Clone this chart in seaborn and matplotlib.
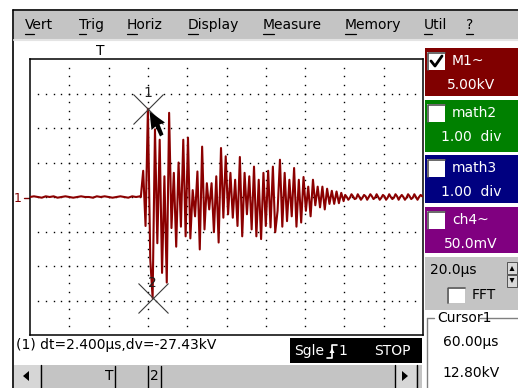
import numpy as np
import pandas as pd
import matplotlib
matplotlib.use("Agg")
import matplotlib.pyplot as plt
import seaborn as sns
from matplotlib.patches import Rectangle, Polygon

# ---------------- data ----------------
# time in microseconds, voltage in kV (20 us/div, 5 kV/div)
pre_t0, pre_dt = 0.0, 2.0
pre_v = [0.0, 0.1, 0.0, -0.1, 0.1, 0.0, 0.1, -0.1, 0.0, 0.1, 0.0, -0.1, 0.0, 0.1, 0.0,
         0.0, -0.1, 0.1, 0.0, 0.1, 0.0, -0.1, 0.0, 0.1, 0.0, -0.1, 0.1, 0.0, 0.1]
burst_t0, burst_dt = 56.4, 1.2
burst_v = [0.0, 3.8, -4.2, 12.8, -9.0, -14.63, 9.8, -6.7, 8.3, -11.0,
           3.0, -12.4, 12.2, -4.5, 3.5, -7.2, 5.0, -4.3, 8.3, -5.7,
           8.6, -6.0, 1.0, -2.8, 3.7, -7.6, 7.3, -4.7, 2.0, -1.8,
           2.0, -5.1, 3.0, -6.6, 7.1, -3.0, 5.9, -2.5, 3.5, -3.0,
           2.5, -4.2, 5.8, -5.7, 3.5, -2.5, 3.0, -4.7, 4.4, -5.7,
           2.5, -6.1, 3.5, -4.2, 3.8, -4.4, 4.4, -5.1, -2.0, 5.4,
           -4.3, 3.5, -3.5, 2.5, -2.8, 4.2, -4.3, 2.5, -3.7, 2.9,
           -2.0, 1.5, -2.8, 2.5, -1.2, 1.5, -1.5, 1.5, -1.8, 1.2,
           -1.0, 0.9, -1.0, 0.8, -0.9, 0.6, -0.6]
tail_t0, tail_dt = 160.4, 0.8
tail_v = [0.3, 0.0, -0.4, -0.1, 0.4, 0.1, -0.3, -0.2, 0.4, 0.0,
          -0.4, -0.1, 0.3, 0.1, -0.4, 0.0, 0.4, 0.1, -0.3, -0.1,
          0.4, 0.0, -0.4, -0.1, 0.3, 0.1, -0.4, -0.1, 0.4, 0.0,
          -0.3, -0.1, 0.4, 0.1, -0.4, 0.0, 0.3, 0.0, -0.4, -0.1,
          0.4, 0.1, -0.3, -0.1, 0.4, 0.0, -0.4, 0.0, 0.3, 0.1]

cursor_t = [60.0, 62.4]
cursor_v = [12.8, -14.63]
cursor_labels = ["1", "2"]

menu_items = ["Vert", "Trig", "Horiz", "Display", "Measure", "Memory", "Util", "?"]
channels = ["M1~", "math2", "math3", "ch4~"]
channel_scales = ["5.00kV", "1.00  div", "1.00  div", "50.0mV"]
channel_colors = ["#800000", "#008000", "#000080", "#800080"]
channel_checked = [True, False, False, False]
timebase = "20.0µs"
cursor_readout = ["60.00µs", "12.80kV"]
status_text = "(1) dt=2.400µs,dv=-27.43kV"

# ---------------- build dataframe ----------------
def seg(t0, dt, vals):
    return pd.DataFrame({"t": t0 + dt * np.arange(len(vals)), "v": vals})

df = pd.concat([seg(pre_t0, pre_dt, pre_v), seg(burst_t0, burst_dt, burst_v),
                seg(tail_t0, tail_dt, tail_v)], ignore_index=True)

sns.set_theme(style="white")
plt.rcParams["font.family"] = ["DejaVu Sans"]

W, H = 518, 388
fig = plt.figure(figsize=(W / 100, H / 100), dpi=100)
fig.patch.set_facecolor("white")

ui = fig.add_axes([0, 0, 1, 1], zorder=0)
ui.set_xlim(0, W); ui.set_ylim(H, 0); ui.axis("off")

GRAY = "#c4c4c4"
FS = 10

# window border
ui.plot([13, 13], [10, H], color="black", lw=1.2)
ui.plot([13, W], [10, 10], color="black", lw=1.2)
# menu bar
ui.add_patch(Rectangle((14, 11), W - 14, 28, fc=GRAY, ec="none"))
ui.plot([14, W], [39.5, 39.5], color="#e4e4e4", lw=1.5)
menu_x = [25, 79, 127, 188, 263, 345, 424, 466]
for name, x in zip(menu_items, menu_x):
    ui.text(x, 25, name, fontsize=FS, ha="left", va="center", color="black")
ul = [(25, 34), (79, 86), (127, 137), (188, 198), (263, 274), (345, 356), (424, 432), (466, 473)]
for a, b in ul:
    ui.plot([a, b], [33.5, 33.5], color="black", lw=0.9)

# trigger marker above plot and channel marker
ui.text(100, 51, "T", fontsize=FS, ha="center", va="center", color="black")
ui.text(18, 198, "1", fontsize=9, ha="center", va="center", color="#800000")
ui.plot([24, 30], [197.5, 197.5], color="#800000", lw=1)

# right channel panel
boxes = [(48, 96), (100, 152), (155, 203), (207, 253)]
for (y0, y1), name, scale, col, chk in zip(boxes, channels, channel_scales,
                                           channel_colors, channel_checked):
    ui.add_patch(Rectangle((425, y0), W - 425, y1 - y0, fc=col, ec="none"))
    cy = y0 + 4
    ui.add_patch(Rectangle((427, cy), 18, 18, fc="white", ec="none"))
    ui.plot([427.5, 427.5, 445], [cy + 18, cy + 0.5, cy + 0.5], color="#505050", lw=1.2)
    if chk:
        ui.plot([431, 435, 442], [cy + 9, cy + 14, cy + 4], color="black", lw=2)
    ui.text(452, y0 + 13, name, fontsize=FS, ha="left", va="center", color="white")
    ui.text(471, y0 + 37, scale, fontsize=FS, ha="center", va="center", color="white")

# timebase box
ui.add_patch(Rectangle((425, 257), W - 425, 53, fc=GRAY, ec="none"))
ui.text(430, 270, timebase, fontsize=FS, ha="left", va="center", color="black")
ui.add_patch(Rectangle((507, 262), 10, 12, fc="#d8d8d8", ec="#404040", lw=0.6))
ui.add_patch(Rectangle((507, 275), 10, 12, fc="#d8d8d8", ec="#404040", lw=0.6))
ui.add_patch(Polygon([(509.5, 271), (514.5, 271), (512, 266)], fc="black", ec="none"))
ui.add_patch(Polygon([(509.5, 278), (514.5, 278), (512, 283)], fc="black", ec="none"))
ui.add_patch(Rectangle((447, 287), 18, 16, fc="white", ec="none"))
ui.plot([447.5, 447.5, 465], [303, 287.5, 287.5], color="#505050", lw=1.2)
ui.text(472, 295, "FFT", fontsize=FS, ha="left", va="center", color="black")

# cursor group
ui.plot([427, 427], [318, H], color="#808080", lw=1)
ui.plot([427, 434], [318, 318], color="#808080", lw=1)
ui.plot([480, W], [318, 318], color="#808080", lw=1)
ui.text(437, 318, "Cursor1", fontsize=FS, ha="left", va="center", color="black")
ui.text(471, 342, cursor_readout[0], fontsize=FS, ha="center", va="center", color="black")
ui.text(471, 373, cursor_readout[1], fontsize=FS, ha="center", va="center", color="black")

# status line
ui.text(16, 345, status_text, fontsize=FS, ha="left", va="center", color="black")
ui.add_patch(Rectangle((290, 338), 132, 25, fc="black", ec="none"))
ui.text(294, 351, "Sgle", fontsize=FS, ha="left", va="center", color="white")
ui.plot([327, 332, 332, 337], [358, 358, 345, 345], color="white", lw=1.2)
ui.add_patch(Polygon([(329.5, 353), (334.5, 353), (332, 348)], fc="white", ec="none"))
ui.text(338, 351, "1", fontsize=FS, ha="left", va="center", color="white")
ui.text(374, 351, "STOP", fontsize=FS, ha="left", va="center", color="white")

# scrollbar
ui.add_patch(Rectangle((14, 365), 408, 23, fc=GRAY, ec="none"))
ui.add_patch(Rectangle((14, 365), 26, 23, fc="#d6d6d6", ec="none"))
ui.plot([40.5, 40.5], [365, H], color="black", lw=1)
ui.add_patch(Polygon([(23, 376), (29, 371), (29, 381)], fc="black", ec="none"))
ui.add_patch(Rectangle((395, 365), 21, 23, fc="#d6d6d6", ec="none"))
ui.plot([394.5, 394.5], [365, H], color="black", lw=1)
ui.plot([416.5, 416.5], [365, H], color="black", lw=1)
ui.add_patch(Polygon([(408, 376), (402, 371), (402, 381)], fc="black", ec="none"))
ui.text(109, 376, "T", fontsize=FS, ha="center", va="center", color="black")
ui.plot([115, 115], [366, H], color="black", lw=1)
ui.plot([148, 148], [366, H], color="black", lw=1)
ui.text(154, 376, "2", fontsize=FS, ha="center", va="center", color="black")
ui.plot([161, 161], [366, H], color="black", lw=1)

# ---------------- scope plot ----------------
ax = fig.add_axes([30 / W, 1 - 335 / H, 393 / W, 276 / H], zorder=2)
ax.set_facecolor("white")
ax.set_xlim(0, 200); ax.set_ylim(-20, 20)

# dotted graticule
vx = np.repeat(np.arange(20, 200, 20), 31)
vy = np.tile(-20 + 1.25 * np.arange(1, 32), 9)
hy = np.repeat(np.arange(-15, 20, 5), 49)
hx = np.tile(4.0 * np.arange(1, 50), 7)
ax.plot(np.r_[vx, hx], np.r_[vy, hy], ls="none", marker="s", ms=1.0, mew=0,
        color="black", zorder=1)

sns.lineplot(data=df, x="t", y="v", ax=ax, color="#8b0000", lw=1.5,
             estimator=None, sort=False, zorder=3)

ax.plot(cursor_t, cursor_v, ls="none", marker="x", ms=21.6, mew=0.8,
        color="#3a3a3a", zorder=4)
for ct, cv, lab in zip(cursor_t, cursor_v, cursor_labels):
    ax.annotate(lab, (ct, cv), xytext=(0, 11), textcoords="offset points",
                ha="center", va="center", fontsize=FS, color="#202020", zorder=5)

ax.set_xticks([]); ax.set_yticks([])
ax.set_xlabel(""); ax.set_ylabel("")
for s in ax.spines.values():
    s.set_visible(True); s.set_color("black"); s.set_linewidth(1.1)

# mouse pointer overlay
top = fig.add_axes([0, 0, 1, 1], zorder=5)
top.set_xlim(0, W); top.set_ylim(H, 0); top.axis("off")
top.patch.set_alpha(0)
top.add_patch(Polygon([(149.5, 111.5), (151.5, 130), (155.5, 126.5), (160, 136.5),
                       (163.5, 134.5), (159.5, 124.5), (165, 122.5)],
                      fc="black", ec="none"))

fig.savefig("out.png", dpi=100)
